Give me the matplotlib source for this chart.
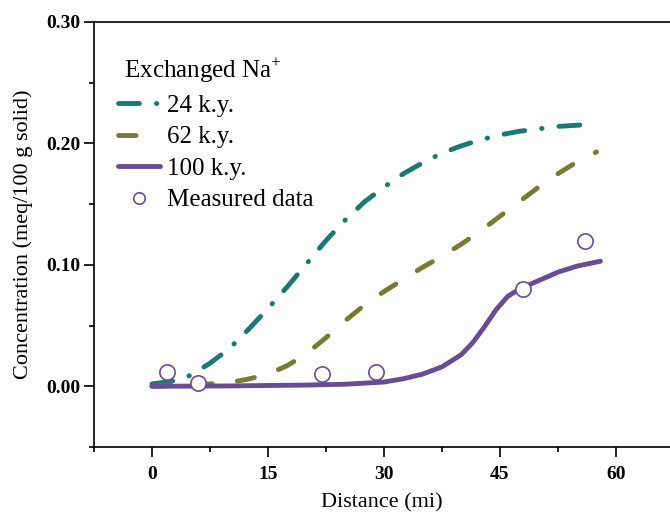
import numpy as np
import matplotlib
matplotlib.use('Agg')
from matplotlib import pyplot as plt
from matplotlib.ticker import MultipleLocator, FormatStrFormatter

plt.rcParams['font.family'] = ['Liberation Serif', 'DejaVu Serif']
plt.rcParams['mathtext.fontset'] = 'custom'
plt.rcParams['mathtext.rm'] = 'Liberation Serif'

#############################################################################################################
# data
x_24 = [0, 2.5, 5, 7.5, 10, 12.5, 15, 17.5, 20, 22.5, 25, 27.5, 30, 32.5, 35, 37.5, 40, 42.5, 45, 47.5, 50, 52.5, 55, 57.5]
y_24 = [0.002, 0.004, 0.009, 0.019, 0.031, 0.047, 0.064, 0.082, 0.101, 0.120, 0.137, 0.152, 0.164, 0.175, 0.184,
        0.192, 0.198, 0.203, 0.207, 0.210, 0.212, 0.214, 0.215, 0.216]

x_62 = [0, 5, 7.5, 10, 12.5, 15, 17.5, 20, 22.5, 25, 27.5, 30, 32.5, 35, 37.5, 40, 42.5, 45, 47.5, 50, 52.5, 55, 57.5]
y_62 = [0.000, 0.001, 0.002, 0.003, 0.006, 0.010, 0.017, 0.027, 0.040, 0.054, 0.067, 0.078, 0.088, 0.098, 0.107,
        0.117, 0.128, 0.140, 0.152, 0.164, 0.175, 0.185, 0.193]

x_100 = [0, 10, 20, 25, 30, 32.5, 35, 37.5, 40, 41.5, 43, 44.5, 46, 47.5, 50, 52.5, 55, 58]
y_100 = [0.000, 0.0003, 0.001, 0.0017, 0.0035, 0.0062, 0.010, 0.016, 0.026, 0.036, 0.049, 0.063, 0.074, 0.080,
         0.087, 0.094, 0.099, 0.103]

x_meas = [2, 6, 22, 29, 48, 56]
y_meas = [0.012, 0.003, 0.010, 0.012, 0.080, 0.120]

teal = '#1a7a73'
olive = '#7b7a35'
purple = '#6a4c94'

#############################################################################################################
# plotting
fig = plt.figure(figsize=(6.7, 5.12), dpi=100)
ax = fig.add_axes([94/670, 65/512, 1 - 94/670, 425/512])

ax.plot(x_24, y_24, color=teal, lw=3.5, linestyle=(0, (4.3, 3.5, 0.1, 3.5)),
        dash_capstyle='round', solid_joinstyle='round', label='24 k.y.')
ax.plot(x_62, y_62, color=olive, lw=3.5, linestyle=(0, (3.6, 5.2)),
        dash_capstyle='round', label='62 k.y.')
ax.plot(x_100, y_100, color=purple, lw=3.5, solid_capstyle='round', solid_joinstyle='round', label='100 k.y.')
ax.plot(x_meas, y_meas, 'o', ms=11, mfc='white', mec=purple, mew=1.2,
        linestyle='none', label='Measured data')

ax.set_xlim(-7.5, 67)
ax.set_ylim(-0.05, 0.30)
ax.xaxis.set_major_locator(MultipleLocator(15))
ax.xaxis.set_minor_locator(MultipleLocator(7.5))
ax.yaxis.set_major_locator(MultipleLocator(0.10))
ax.yaxis.set_minor_locator(MultipleLocator(0.05))
ax.yaxis.set_major_formatter(FormatStrFormatter('%.2f'))
ax.set_xticks([0, 15, 30, 45, 60])

ax.spines['right'].set_visible(False)
for s in ['left', 'bottom', 'top']:
    ax.spines[s].set_linewidth(1.2)
ax.tick_params(which='both', direction='out', width=1.2, top=False, right=False)
ax.tick_params(which='major', length=7, labelsize=14)
ax.tick_params(which='minor', length=3.5)
ax.tick_params(axis='x', which='major', pad=7)
ax.tick_params(axis='y', which='major', pad=3)
for lab in ax.get_xticklabels() + ax.get_yticklabels():
    lab.set_fontweight('bold')

ax.set_xlabel('Distance (mi)', fontsize=16, labelpad=7)
ax.set_ylabel('Concentration (meq/100 g solid)', fontsize=16, labelpad=9)

leg = ax.legend(loc='upper left', bbox_to_anchor=(118/670, 1 - 56/512), bbox_transform=fig.transFigure,
                frameon=False, fontsize=18, title=r' Exchanged Na$^{+}$', title_fontsize=18,
                alignment='left', handlelength=1.7, handletextpad=0.25, labelspacing=0.36,
                borderpad=0, borderaxespad=0, markerscale=0.75)

fig.savefig('out.png', dpi=100)
